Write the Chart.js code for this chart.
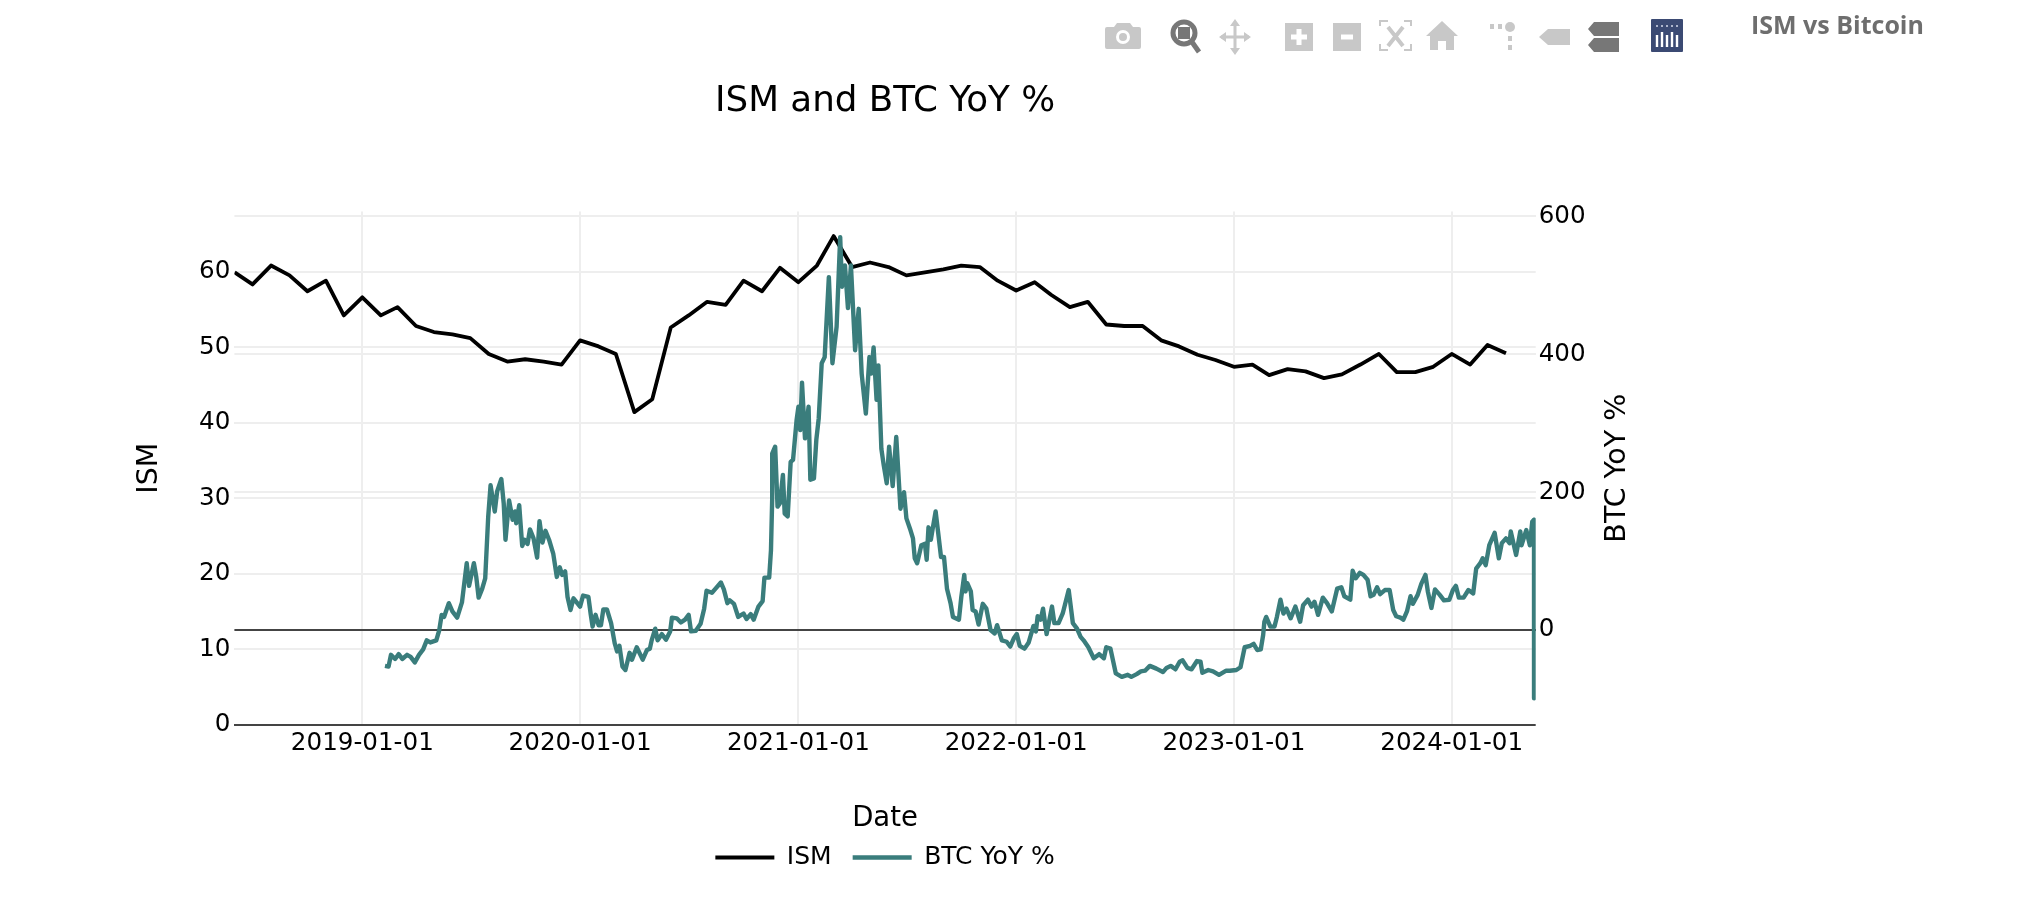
<!DOCTYPE html>
<html>
<head>
<meta charset="utf-8">
<title>ISM vs Bitcoin</title>
<script src="https://cdn.jsdelivr.net/npm/chart.js@4/dist/chart.umd.min.js"></script>
<style>
    html, body { margin: 0; padding: 0; background: #fff; }
    #wrap { position: relative; width: 2040px; height: 924px; overflow: hidden; }
    #toolbar { position: absolute; left: 0; top: 0; }
    #pageTitle { position: absolute; left: 1751px; top: 7px; font: bold 25px "Open Sans", Lato, sans-serif; color: #6e6e6e; white-space: nowrap; }
</style>
</head>
<body>
<div id="wrap">
    <canvas id="chart" width="2040" height="924"></canvas>
    <svg id="toolbar" width="2040" height="70">
        <!-- camera -->
        <path fill="#c8c8c8" d="M1107 27h7l3-4h13l3 4h6q2 0 2 2v18q0 2-2 2h-32q-2 0-2-2V29q0-2 2-2z"/>
        <circle cx="1123" cy="37" r="7" fill="#fff"/><circle cx="1123" cy="37" r="4" fill="#c8c8c8"/>
        <!-- zoom -->
        <circle cx="1184" cy="33" r="11" fill="#fff" stroke="#777" stroke-width="5"/>
        <rect x="1178" y="27" width="12" height="12" fill="#777"/>
        <path d="M1192 42l7 10" stroke="#777" stroke-width="5"/>
        <!-- pan -->
        <path fill="none" stroke="#c8c8c8" stroke-width="3" d="M1235 23v28M1221 37h28"/>
        <path fill="#c8c8c8" d="M1235 19l5 7h-10zM1235 55l5-7h-10zM1219 37l7-5v10zM1251 37l-7-5v10z"/>
        <!-- zoom in, zoom out -->
        <rect x="1285" y="23" width="28" height="28" fill="#c8c8c8"/>
        <path stroke="#fff" stroke-width="5" d="M1299 29v16M1291 37h16"/>
        <rect x="1333" y="23" width="28" height="28" fill="#c8c8c8"/>
        <path stroke="#fff" stroke-width="5" d="M1341 37h12"/>
        <!-- autoscale -->
        <path fill="none" stroke="#c8c8c8" stroke-width="2" d="M1380 26v-5h8M1404 21h7v5M1411 44v6h-7M1388 50h-8v-6"/>
        <path fill="none" stroke="#c8c8c8" stroke-width="4" d="M1388 27l15 19M1403 27l-15 19"/>
        <!-- home -->
        <path fill="#c8c8c8" d="M1442 21l16 15h-4v14h-8v-9h-8v9h-8V36h-4z"/>
        <!-- spikelines -->
        <circle cx="1510" cy="27" r="5" fill="#c8c8c8"/>
        <rect x="1490" y="24" width="4" height="5" fill="#c8c8c8"/><rect x="1498" y="24" width="4" height="5" fill="#c8c8c8"/>
        <rect x="1508" y="36" width="4" height="5" fill="#c8c8c8"/><rect x="1508" y="45" width="4" height="5" fill="#c8c8c8"/>
        <!-- hover closest -->
        <path fill="#c8c8c8" d="M1539 37l9-8h22v16h-22z"/>
        <!-- hover compare -->
        <path fill="#777" d="M1588 29l6-7h25v14h-25zM1588 45l6-7h25v14h-25z"/>
        <!-- logo -->
        <rect x="1651" y="19" width="32" height="33" rx="1" fill="#3b4a73"/>
        <path stroke="#fff" stroke-width="2.4" d="M1657 35v12M1662 32v15M1667 35v12M1672 32v15M1677 35v12"/>
        <path stroke="#aeb6cc" stroke-width="2" stroke-dasharray="2 3" d="M1656 26h22"/>
    </svg>
    <div id="pageTitle">ISM vs Bitcoin</div>
</div>
<script>
// ISM monthly readings
const ismDates = [
    '2018-06-01','2018-07-01','2018-08-01','2018-09-01','2018-10-01','2018-11-01','2018-12-01',
    '2019-01-01','2019-02-01','2019-03-01','2019-04-01','2019-05-01','2019-06-01','2019-07-01','2019-08-01','2019-09-01','2019-10-01','2019-11-01','2019-12-01',
    '2020-01-01','2020-02-01','2020-03-01','2020-04-01','2020-05-01','2020-06-01','2020-07-01','2020-08-01','2020-09-01','2020-10-01','2020-11-01','2020-12-01',
    '2021-01-01','2021-02-01','2021-03-01','2021-04-01','2021-05-01','2021-06-01','2021-07-01','2021-08-01','2021-09-01','2021-10-01','2021-11-01','2021-12-01',
    '2022-01-01','2022-02-01','2022-03-01','2022-04-01','2022-05-01','2022-06-01','2022-07-01','2022-08-01','2022-09-01','2022-10-01','2022-11-01','2022-12-01',
    '2023-01-01','2023-02-01','2023-03-01','2023-04-01','2023-05-01','2023-06-01','2023-07-01','2023-08-01','2023-09-01','2023-10-01','2023-11-01','2023-12-01',
    '2024-01-01','2024-02-01','2024-03-01','2024-04-01'
];
const ismValues = [
    59.9,58.3,60.8,59.5,57.4,58.8,54.2,
    56.6,54.2,55.3,52.8,52.0,51.7,51.2,49.1,48.1,48.4,48.1,47.7,
    50.9,50.1,49.1,41.4,43.1,52.6,54.2,56.0,55.6,58.8,57.4,60.5,
    58.6,60.8,64.7,60.6,61.2,60.6,59.5,59.9,60.3,60.8,60.6,58.8,
    57.5,58.6,56.9,55.3,56.0,53.0,52.8,52.8,50.9,50.1,49.0,48.3,
    47.4,47.7,46.3,47.1,46.8,45.9,46.4,47.7,49.1,46.7,46.7,47.4,
    49.1,47.7,50.3,49.2
];

// BTC YoY %, days counted from 2019-01-01
const btcDays = [
    38,44,48,55,61,67,75,81,88,95,102,108,114,124,129,133,137,145,151,159,167,175,179,187,191,195,201,206,211,215,222,226,233,237,240,246,252,256,258,263,268,272,277,281,287,293,297,302,307,313,320,326,331,335,340,344,349,354,
    365,370,379,383,386,391,396,400,404,410,417,423,427,431,436,441,448,452,460,470,477,482,485,491,495,502,509,516,519,527,534,541,547,551,559,567,573,577,586,591,601,606,612,616,623,630,639,644,651,656,664,671,674,682,685,687,
    687,692,696,700,705,708,713,718,722,728,731,734,737,742,748,751,757,761,765,770,775,782,788,795,801,804,809,814,819,826,832,837,844,850,853,857,862,865,870,874,879,883,889,895,902,908,912,918,923,926,930,937,943,946,949,953,957,961,965,970,975,980,986,990,1000,1004,1009,1011,1014,1020,1023,1028,1033,1040,1046,1053,1060,1064,
    1072,1080,1086,1092,1097,1102,1110,1117,1125,1129,1132,1137,1141,1147,1156,1160,1167,1174,1184,1191,1198,1204,1209,1217,
    1226,1235,1243,1247,1254,1263,1273,1283,1289,1298,1305,1312,1320,1331,1342,1348,1355,1363,1370,1375,1383,1390,1399,1405,1408,1418,1426,1436,1448,1454,1465,1472,1479,1488,1494,1500,1506,1510,1512,1515,1522,1529,1533,1539,1544,1549,1556,1564,1572,
    1577,1585,1591,1596,1602,1610,1617,1625,1634,1641,1646,1656,1660,1665,1672,1678,1685,1690,1695,1701,1706,1714,1722,1728,1733,1740,1745,1751,1757,1761,1769,1775,1782,1786,1792,1798,1806,1813,1822,1828,1833,1838,1846,1854,1862,1867,1874,1878,1883,1889,1898,1905,1910,1917,1923,1925,1934,1941,1943,1951,1957,1961,1964,1964
];
const btcValues = [
    -52,-53,-36,-42,-35,-42,-36,-39,-47,-36,-28,-15,-18,-15,0,22,19,39,27,18,40,97,64,97,77,47,60,75,164,210,172,201,219,184,131,188,160,172,155,181,122,131,125,146,133,105,158,127,144,131,111,77,91,80,85,48,29,46,
    34,50,48,22,5,22,7,7,30,30,10,-19,-31,-23,-53,-58,-33,-43,-25,-43,-29,-27,-15,2,-15,-6,-14,-2,18,17,11,15,22,-2,-1,9,31,57,54,59,69,59,39,43,38,19,24,16,23,15,34,42,76,76,116,189,
    256,266,179,184,225,169,165,244,247,305,324,290,359,278,324,218,220,276,307,387,396,512,387,440,570,498,529,467,529,406,466,372,314,396,372,410,334,384,263,239,213,266,209,280,176,200,162,147,133,104,97,123,125,102,149,131,152,172,143,106,106,60,39,19,15,48,80,56,68,56,29,27,8,38,31,0,-5,7,
    -15,-17,-24,-12,-6,-23,-27,-18,6,-2,20,15,31,-6,34,10,10,24,58,10,2,-10,-15,-25,
    -41,-35,-41,-25,-27,-63,-68,-65,-68,-64,-60,-59,-52,-56,-61,-55,-52,-57,-46,-44,-55,-57,-45,-46,-62,-58,-60,-65,-59,-59,-58,-54,-25,-23,-20,-29,-28,-7,12,19,5,5,19,44,24,31,17,34,12,
    36,44,34,41,22,47,39,27,60,62,49,44,86,75,83,80,73,49,51,62,52,58,58,29,20,18,15,27,49,38,51,67,80,56,32,59,51,43,44,58,64,47,47,58,53,89,97,104,94,123,141,104,126,133,126,143,109,143,123,145,123,157,160,-99
];

// axes
const xTickDates = ['2019-01-01','2020-01-01','2021-01-01','2022-01-01','2023-01-01','2024-01-01'];
const ismTicks = [0, 10, 20, 30, 40, 50, 60];
const btcTicks = [0, 200, 400, 600];

const dayOf = d => (Date.parse(d) - Date.parse('2019-01-01')) / 86400000;
const dateOf = n => new Date(Date.parse('2019-01-01') + n * 86400000).toISOString().slice(0, 10);

const FONT = '"DejaVu Sans", Verdana, sans-serif';
const TEAL = '#3a7d7c';

// zero lines are dark, the rest of the grid is pale
const gridColor = c => (c.tick && c.tick.value === 0 ? '#444' : '#eee');

// right axis title reads upwards, Chart.js only turns it the other way
const btcTitle = {
    id: 'btcTitle',
    afterDraw(chart) {
        const { ctx, chartArea } = chart;
        ctx.save();
        ctx.translate(1618, (chartArea.top + chartArea.bottom) / 2);
        ctx.rotate(-Math.PI / 2);
        ctx.font = '28.5px ' + FONT;
        ctx.fillStyle = '#000';
        ctx.textAlign = 'center';
        ctx.textBaseline = 'middle';
        ctx.fillText('BTC YoY %', 0, 0);
        ctx.restore();
    }
};

new Chart(document.getElementById('chart'), {
    type: 'line',
    data: {
        datasets: [
            {
                label: 'ISM',
                data: ismDates.map((d, i) => ({ x: dayOf(d), y: ismValues[i] })),
                yAxisID: 'yIsm',
                borderColor: '#000',
                backgroundColor: '#000',
                borderWidth: 3.8,
                pointRadius: 0,
                order: 2
            },
            {
                label: 'BTC YoY %',
                data: btcDays.map((d, i) => ({ x: d, y: btcValues[i] })),
                yAxisID: 'yBtc',
                borderColor: TEAL,
                backgroundColor: TEAL,
                borderWidth: 4.4,
                pointRadius: 0,
                order: 1
            }
        ]
    },
    options: {
        responsive: false,
        animation: false,
        devicePixelRatio: 1,
        layout: { padding: { top: 0, left: 0, right: 0, bottom: 44 } },
        elements: { line: { tension: 0, borderJoinStyle: 'round' } },
        plugins: {
            title: {
                display: true,
                text: 'ISM and BTC YoY %',
                fullSize: false,
                color: '#000',
                font: { family: FONT, size: 35.7, weight: 'normal' },
                padding: { top: 80.2, bottom: 88.4 }
            },
            legend: {
                position: 'bottom',
                fullSize: false,
                labels: {
                    color: '#000',
                    font: { family: FONT, size: 25 },
                    usePointStyle: true,
                    pointStyle: 'line',
                    pointStyleWidth: 59,
                    padding: 21,
                    sort: (a, b) => a.datasetIndex - b.datasetIndex
                }
            },
            tooltip: { enabled: false }
        },
        scales: {
            x: {
                type: 'linear',
                min: -214.4,
                max: 1966.8,
                afterFit: s => { s.height = 99; },
                afterBuildTicks: s => { s.ticks = xTickDates.map(d => ({ value: dayOf(d) })); },
                border: { display: false },
                grid: { color: '#eee', lineWidth: 2, drawTicks: false },
                ticks: {
                    color: '#000',
                    font: { family: FONT, size: 24.6 },
                    padding: 4,
                    maxRotation: 0,
                    autoSkip: false,
                    callback: v => dateOf(v)
                },
                title: {
                    display: true,
                    text: 'Date',
                    color: '#000',
                    font: { family: FONT, size: 27.5 },
                    padding: { top: 0, bottom: -11.5 }
                }
            },
            yIsm: {
                position: 'left',
                min: 0,
                max: 67.96,
                afterFit: s => { s.width = 234.4; },
                afterBuildTicks: s => { s.ticks = ismTicks.map(v => ({ value: v })); },
                border: { display: false },
                grid: { color: gridColor, lineWidth: 2, drawTicks: false },
                ticks: { color: '#000', font: { family: FONT, size: 24.6 }, padding: 4 },
                title: {
                    display: true,
                    text: 'ISM',
                    color: '#000',
                    font: { family: FONT, size: 28.5 },
                    padding: { top: 132, bottom: 0 }
                }
            },
            yBtc: {
                position: 'right',
                min: -137.8,
                max: 607.3,
                afterFit: s => { s.width = 504.3; },
                afterBuildTicks: s => { s.ticks = btcTicks.map(v => ({ value: v })); },
                border: { display: false },
                grid: { color: gridColor, lineWidth: 2, drawTicks: false },
                ticks: { color: '#000', font: { family: FONT, size: 24.6 }, padding: 3 }
            }
        }
    },
    plugins: [btcTitle]
});
</script>
</body>
</html>
